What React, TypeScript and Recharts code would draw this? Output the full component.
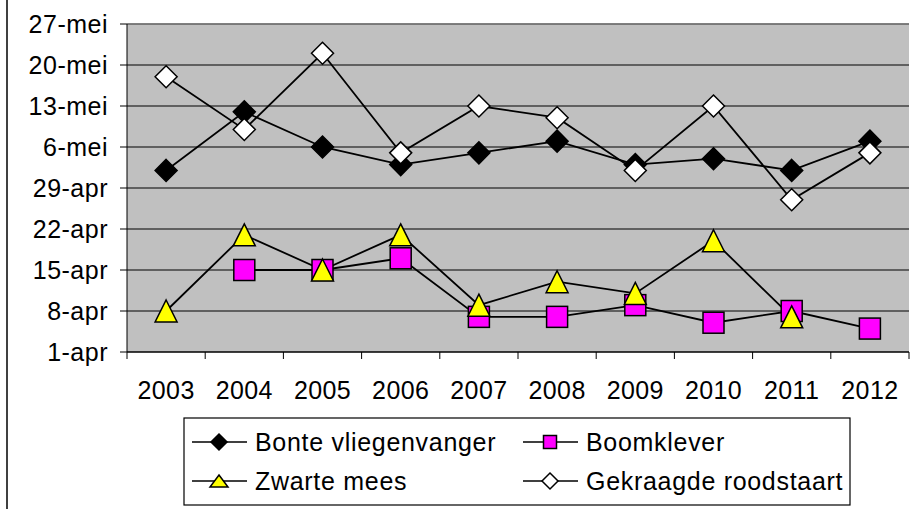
import { LineChart, Line, XAxis, YAxis, CartesianGrid, ReferenceLine } from 'recharts'

// days counted from 1 april (0 = 1-apr)
const years = ['2003', '2004', '2005', '2006', '2007', '2008', '2009', '2010', '2011', '2012']
const bonteVliegenvanger = [31, 41, 35, 32, 34, 36, 32, 33, 31, 36]
const boomklever = [null, 14, 14, 16, 6, 6, 8, 5, 7, 4]
const zwarteMees = [7, 20, 14, 20, 8, 12, 10, 19, 6, null]
const gekraagdeRoodstaart = [47, 38, 51, 34, 42, 40, 31, 42, 26, 34]

const yTicks = [0, 7, 14, 21, 28, 35, 42, 49, 56]
const yTickLabels = ['1-apr', '8-apr', '15-apr', '22-apr', '29-apr', '6-mei', '13-mei', '20-mei', '27-mei']

const series = [
  { key: 'bonte', name: 'Bonte vliegenvanger', shape: 'diamond', fill: '#000000' },
  { key: 'boomklever', name: 'Boomklever', shape: 'square', fill: '#FF00FF' },
  { key: 'zwarte', name: 'Zwarte mees', shape: 'triangle', fill: '#FFFF00' },
  { key: 'gekraagde', name: 'Gekraagde roodstaart', shape: 'diamond', fill: '#FFFFFF' },
]

const data = years.map((year, i) => ({
  year,
  bonte: bonteVliegenvanger[i],
  boomklever: boomklever[i],
  zwarte: zwarteMees[i],
  gekraagde: gekraagdeRoodstaart[i],
}))

const FONT = '"Liberation Sans", Arial, sans-serif'
const WIDTH = 915
const HEIGHT = 509
const PLOT_LEFT = 127
const PLOT_RIGHT = 909
const BAND_HALF = (PLOT_RIGHT - PLOT_LEFT) / years.length / 2
const X_TICK_MARGIN = 29

const Marker = ({ shape, cx, cy, fill, size, sizeY }: any) => {
  const sy = sizeY ?? size
  if (shape === 'diamond') {
    return (
      <polygon
        points={`${cx},${cy - size} ${cx + size},${cy} ${cx},${cy + size} ${cx - size},${cy}`}
        fill={fill}
        stroke="#000"
        strokeWidth={1.5}
      />
    )
  }
  if (shape === 'square') {
    return <rect x={cx - size} y={cy - size} width={size * 2} height={size * 2} fill={fill} stroke="#000" strokeWidth={1.5} />
  }
  return (
    <polygon
      points={`${cx},${cy - sy} ${cx + size},${cy + sy} ${cx - size},${cy + sy}`}
      fill={fill}
      stroke="#000"
      strokeWidth={1.5}
    />
  )
}

const makeDot = (shape: string, fill: string) => (props: any) => {
  const { cx, cy, index, value } = props
  if (cx == null || cy == null || value == null) return <g key={`d-${index}`} />
  return (
    <g key={`d-${index}`}>
      <Marker shape={shape} cx={cx} cy={cy} fill={fill} size={shape === 'square' ? 10.5 : 11} />
    </g>
  )
}

const XTick = (props: any) => {
  const { x, y, payload, index } = props
  const axisY = y - X_TICK_MARGIN
  return (
    <g>
      <line x1={x - BAND_HALF} x2={x - BAND_HALF} y1={axisY} y2={axisY + 7} stroke="#000" />
      {index === years.length - 1 && (
        <line x1={x + BAND_HALF} x2={x + BAND_HALF} y1={axisY} y2={axisY + 7} stroke="#000" />
      )}
      <text x={x} y={y} dy="0.71em" textAnchor="middle" fontSize={25} fill="#000" fontFamily={FONT} letterSpacing={0.4}>
        {payload.value}
      </text>
    </g>
  )
}

const LegendBox = () => {
  const cols = [9, 340]
  const rows = [25, 64]
  return (
    <svg
      width={668}
      height={89}
      style={{ position: 'absolute', left: 183, top: 417 }}
    >
      <rect x={1} y={1} width={666} height={87} fill="#fff" stroke="#000" strokeWidth={1.2} />
      {series.map((s, i) => {
        const x0 = cols[i % 2]
        const y0 = rows[Math.floor(i / 2)]
        const cx = x0 + 27
        return (
          <g key={s.key}>
            <line x1={x0} x2={x0 + 55} y1={y0} y2={y0} stroke="#000" strokeWidth={1.5} />
            {s.shape === 'diamond' && <Marker shape="diamond" cx={cx} cy={y0} fill={s.fill} size={8} />}
            {s.shape === 'square' && <Marker shape="square" cx={cx} cy={y0} fill={s.fill} size={6.5} />}
            {s.shape === 'triangle' && <Marker shape="triangle" cx={cx} cy={y0} fill={s.fill} size={9} sizeY={6} />}
            <text x={x0 + 63} y={y0} dy="0.355em" fontSize={25} fontFamily={FONT} fill="#000" letterSpacing={0.7}>
              {s.name}
            </text>
          </g>
        )
      })}
    </svg>
  )
}

export default function App() {
  return (
    <div style={{ position: 'fixed', left: 0, top: 0, width: WIDTH, height: HEIGHT, background: '#fff' }}>
      <div style={{ position: 'absolute', left: 6, top: 0, width: 2, height: HEIGHT, background: '#404040' }} />
      <LineChart
        width={WIDTH}
        height={HEIGHT}
        data={data}
        margin={{ top: 24, right: WIDTH - PLOT_RIGHT, bottom: 0, left: 0 }}
      >
        <CartesianGrid vertical={false} fill="#C0C0C0" stroke="#000" horizontalFill={['#C0C0C0']} />
        <ReferenceLine y={56} stroke="#808080" strokeWidth={1.5} />
        <XAxis
          dataKey="year"
          padding={{ left: BAND_HALF, right: BAND_HALF }}
          height={HEIGHT - 352}
          tickLine={false}
          tickSize={0}
          tickMargin={X_TICK_MARGIN}
          axisLine={{ stroke: '#000' }}
          tick={<XTick />}
          interval={0}
        />
        <YAxis
          width={PLOT_LEFT}
          domain={[0, 56]}
          ticks={yTicks}
          interval={0}
          tickSize={7}
          tickMargin={12}
          tickFormatter={(v: number) => yTickLabels[yTicks.indexOf(v)]}
          tick={{ fontSize: 25, fill: '#000', fontFamily: FONT, letterSpacing: 0.5 }}
          axisLine={{ stroke: '#000' }}
          tickLine={{ stroke: '#000' }}
        />
        <YAxis
          yAxisId="border"
          orientation="right"
          width={0}
          domain={[0, 56]}
          tick={false}
          tickLine={false}
          axisLine={{ stroke: '#808080', strokeWidth: 1.5 }}
        />
        {series.map((s) => (
          <Line
            key={s.key}
            dataKey={s.key}
            name={s.name}
            stroke="#000"
            strokeWidth={1.8}
            dot={makeDot(s.shape, s.fill)}
            activeDot={false}
            isAnimationActive={false}
          />
        ))}
      </LineChart>
      <LegendBox />
    </div>
  )
}
